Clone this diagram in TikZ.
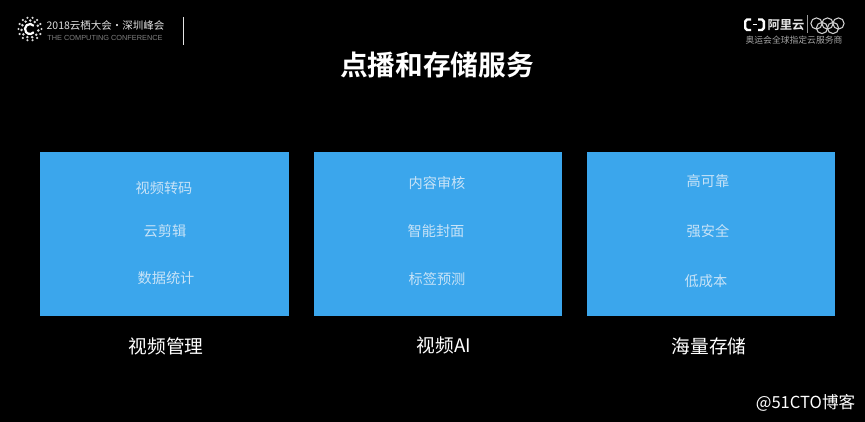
\documentclass[tikz,border=0pt]{standalone}
\usepackage{fontspec}
\setmainfont{Liberation Sans}
\newfontfamily\cjk{Noto Sans CJK SC}
\newfontfamily\cjkb{Noto Sans CJK SC Bold}
\definecolor{panel}{HTML}{3BA6EC}
\definecolor{soft}{HTML}{C8E3F7}
\tikzset{x=1pt,y=-1pt,
 box/.style={fill=panel,draw=none,minimum width=248.5pt,minimum height=164pt,inner sep=0pt},
 item/.style={text=soft,font=\cjk\fontsize{14.2}{14}\selectfont,inner sep=0pt},
 captext/.style={text=white,font=\cjk\fontsize{18.7}{19}\selectfont,inner sep=0pt},
 ring/.style={draw=white!80!black,line width=1.1pt,fill=none}}
\begin{document}
\begin{tikzpicture}
\useasboundingbox (0,0) rectangle (865,422);
\fill[black] (0,0) rectangle (865,422);
\node[box] (a) at (164.5,234) {};
\node[box] (b) at (437.8,234) {};
\node[box] (c) at (710.8,234) {};
\node[item] (a1) at (164,188.5) {视频转码};
\node[item] (a2) at (165,231) {云剪辑};
\node[item] (a3) at (166,278.5) {数据统计};
\node[item] (b1) at (437,183.5) {内容审核};
\node[item] (b2) at (436,231) {智能封面};
\node[item] (b3) at (437,279) {标签预测};
\node[item] (c1) at (708,181.5) {高可靠};
\node[item] (c2) at (708,231) {强安全};
\node[item] (c3) at (706,281.5) {低成本};
\node[captext] (ca) at (166,346) {视频管理};
\node[captext] (cb) at (444,345) {视频AI};
\node[captext] (cc) at (709,346) {海量存储};
\node[text=white,font=\cjkb\fontsize{27.7}{28}\selectfont,inner sep=0pt] (t) at (437,65) {点播和存储服务};
\node[text=white,font=\cjk\fontsize{16.6}{17}\selectfont,inner sep=0pt] (w) at (805.5,403) {@51CTO博客};
% left logo
\foreach \r/\n/\o/\s in {11.5/14/0/1.2,8.5/11/10/1.4}{
 \foreach \i in {1,...,\n}{
  \fill[white!85!black] ({30+\r*cos(\o+360*\i/\n)},{29+\r*sin(\o+360*\i/\n)}) circle (\s pt);}}
\draw[white,line width=2.2pt] (33.8,25.8) arc[start angle=40,end angle=320,radius=5pt];
\node[text=white!88!black,font=\cjk\fontsize{10.5}{11}\selectfont,inner sep=0pt] (l1) at (105.5,26) {2018云栖大会·深圳峰会};
\node[text=white!50!black,font=\fontsize{7.35}{8}\selectfont,inner sep=0pt] (l2) at (105,37.5) {THE COMPUTING CONFERENCE};
\draw[white!90!black,line width=0.9pt] (183.5,17) -- (183.5,45);
% right logo
\draw[white,line width=2.4pt] (751,19.5) -- (747,19.5) -- (745.2,21.5) -- (745.2,28) -- (747,30) -- (751,30);
\draw[white,line width=2.4pt] (758,19.5) -- (762,19.5) -- (763.8,21.5) -- (763.8,28) -- (762,30) -- (758,30);
\draw[white,line width=0.8pt] (752.5,24.8) -- (756.5,24.8);
\node[text=white!90!black,font=\cjkb\fontsize{12.3}{13}\selectfont,inner sep=0pt] (ali) at (786,25) {阿里云};
\draw[white!60!black,line width=0.7pt] (807,15) -- (807,33);
\foreach \x/\y in {816.5/23.5,827.5/23.5,838.5/23.5,822/28,833/28}{\draw[ring] (\x,\y) circle (5.6pt);}
\node[text=white!65!black,font=\cjk\fontsize{8.8}{9}\selectfont,inner sep=0pt] (sub) at (794,40) {奥运会全球指定云服务商};
\end{tikzpicture}
\end{document}
